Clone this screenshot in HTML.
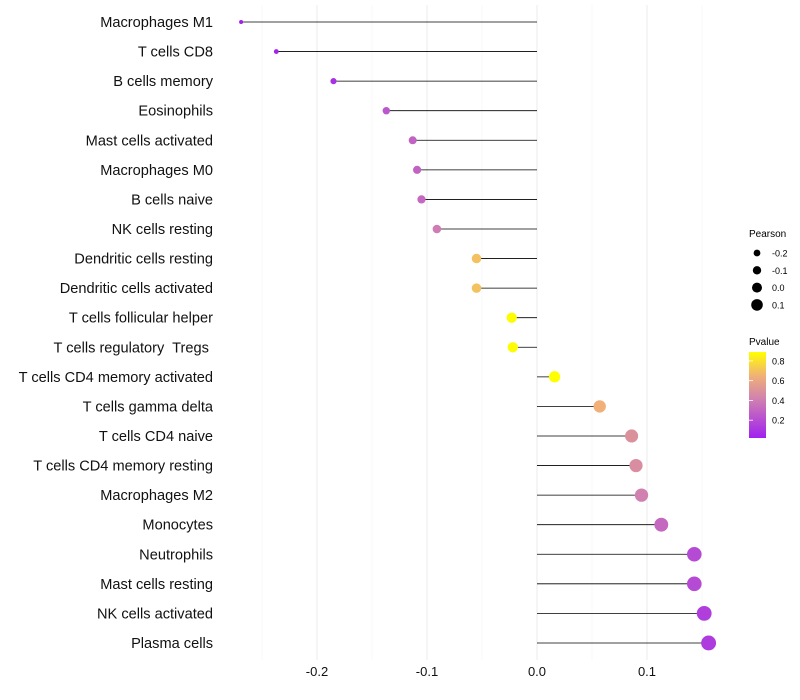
<!DOCTYPE html>
<html><head><meta charset="utf-8"><style>body{margin:0;background:#fff}svg{display:block;font-family:"Liberation Sans",sans-serif}text{white-space:pre}</style></head>
<body>
<svg id="chart" width="800" height="700">
<defs><linearGradient id="pg" x1="0" y1="1" x2="0" y2="0">
<stop offset="0" stop-color="#a020f0"/><stop offset="0.45" stop-color="#d080b0"/><stop offset="0.72" stop-color="#f0b078"/><stop offset="1" stop-color="#ffff00"/></linearGradient></defs>
<g id="grid"></g><g id="marks"></g><g id="labels"></g>
<g>
<text x="749" y="237" font-size="10">Pearson</text>
</g>
<g>
<text x="749" y="345" font-size="10">Pvalue</text>
<rect x="749" y="352" width="17" height="86" fill="url(#pg)"/>
</g>
</svg>
<script>
const cells=["Macrophages M1","T cells CD8","B cells memory","Eosinophils","Mast cells activated","Macrophages M0","B cells naive","NK cells resting","Dendritic cells resting","Dendritic cells activated","T cells follicular helper","T cells regulatory  Tregs ","T cells CD4 memory activated","T cells gamma delta","T cells CD4 naive","T cells CD4 memory resting","Macrophages M2","Monocytes","Neutrophils","Mast cells resting","NK cells activated","Plasma cells"];
const pearson=[-0.269,-0.237,-0.185,-0.137,-0.113,-0.109,-0.105,-0.091,-0.055,-0.055,-0.023,-0.022,0.016,0.057,0.086,0.090,0.095,0.113,0.143,0.143,0.152,0.156];
const pvalue=[0.03,0.05,0.1,0.25,0.3,0.3,0.32,0.4,0.7,0.7,0.88,0.88,0.9,0.65,0.5,0.48,0.42,0.32,0.2,0.2,0.15,0.14];
const xTicks=[-0.2,-0.1,0.0,0.1];
const xTickLabels=["-0.2","-0.1","0.0","0.1"];
const sizeLegendVals=[-0.2,-0.1,0.0,0.1];
const colorLegendVals=[0.2,0.4,0.6,0.8];
const NS="http://www.w3.org/2000/svg";
const X=v=>537+v*1100, Y=i=>22+i*29.57;
const R=v=>2+(v+0.27)*12.8;
const stops=[[0,[160,32,240]],[0.45,[208,128,176]],[0.72,[240,176,120]],[1,[255,255,0]]];
function col(p){let t=Math.max(0,Math.min(1,(p-0.03)/0.86));for(let k=0;k<3;k++){const a=stops[k],b=stops[k+1];if(t<=b[0]){const f=(t-a[0])/(b[0]-a[0]);return "rgb("+a[1].map((c,j)=>Math.round(c+(b[1][j]-c)*f)).join(",")+")";}}return "rgb(255,255,0)";}
function mk(t,a,p){const e=document.createElementNS(NS,t);for(const k in a)e.setAttribute(k,a[k]);(p||document.getElementById("chart")).appendChild(e);return e;}
const grid=document.getElementById("grid"),marks=document.getElementById("marks"),labels=document.getElementById("labels");
[-0.25,-0.15,-0.05,0.05,0.15].forEach(v=>{const l=mk("line",{x1:X(v),x2:X(v),y1:5,y2:660,stroke:"#f3f3f3","stroke-width":0.6},grid);});
xTicks.forEach((v,i)=>{const l=mk("line",{x1:X(v),x2:X(v),y1:5,y2:660,stroke:"#ebebeb","stroke-width":1},grid);
const t=mk("text",{x:X(v),y:676,"font-size":13,"text-anchor":"middle",fill:"#111"},labels);t.textContent=xTickLabels[i];});
cells.forEach((c,i)=>{const l=mk("line",{x1:X(0),x2:X(pearson[i]),y1:Y(i),y2:Y(i),stroke:"#000","stroke-width":0.8},marks);
const d=mk("circle",{cx:X(pearson[i]),cy:Y(i),r:R(pearson[i]),fill:col(pvalue[i])},marks);
const t=mk("text",{x:213,y:Y(i)+5,"font-size":14.6,"text-anchor":"end",fill:"#111"},labels);t.textContent=c;});
sizeLegendVals.forEach((v,i)=>{const y=253+i*17.3;const d=mk("circle",{cx:757,cy:y,r:3.4+(v+0.2)*8,fill:"#000"});
const t=mk("text",{x:772,y:y+3.5,"font-size":9});t.textContent=(v===0?"0.0":v.toFixed(1));});
colorLegendVals.forEach(v=>{const y=437-(v-0.03)/0.86*85;const l=mk("line",{x1:749,x2:753,y1:y,y2:y,stroke:"#fff","stroke-width":0.8});
const t=mk("text",{x:772,y:y+3.5,"font-size":9});t.textContent=v.toFixed(1);});
</script>
</body></html>
